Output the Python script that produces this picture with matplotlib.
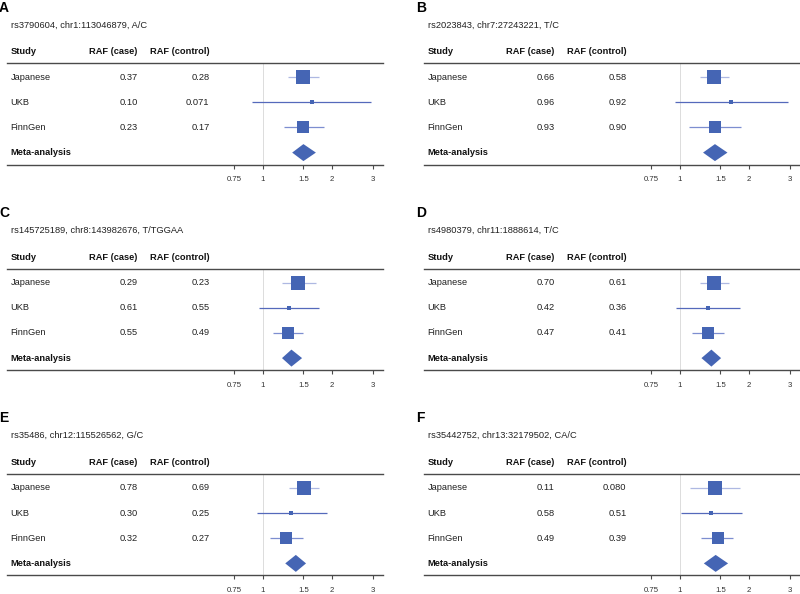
import numpy as np
import matplotlib
matplotlib.use("Agg")
import matplotlib.pyplot as plt
from matplotlib.ticker import NullLocator
from matplotlib.transforms import blended_transform_factory

plt.rcParams['font.family'] = ['Liberation Sans', 'DejaVu Sans']

# ---------------- data ----------------
LETTERS = ["A", "B", "C", "D", "E", "F"]
TITLES = [
    "rs3790604, chr1:113046879, A/C",
    "rs2023843, chr7:27243221, T/C",
    "rs145725189, chr8:143982676, T/TGGAA",
    "rs4980379, chr11:1888614, T/C",
    "rs35486, chr12:115526562, G/C",
    "rs35442752, chr13:32179502, CA/C",
]
STUDIES = ["Japanese", "UKB", "FinnGen"]
META_LABEL = "Meta-analysis"
HEADERS = ["Study", "RAF (case)", "RAF (control)"]

CASE_A = ["0.37", "0.10", "0.23"];  CTRL_A = ["0.28", "0.071", "0.17"]
CASE_B = ["0.66", "0.96", "0.93"];  CTRL_B = ["0.58", "0.92", "0.90"]
CASE_C = ["0.29", "0.61", "0.55"];  CTRL_C = ["0.23", "0.55", "0.49"]
CASE_D = ["0.70", "0.42", "0.47"];  CTRL_D = ["0.61", "0.36", "0.41"]
CASE_E = ["0.78", "0.30", "0.32"];  CTRL_E = ["0.69", "0.25", "0.27"]
CASE_F = ["0.11", "0.58", "0.49"];  CTRL_F = ["0.080", "0.51", "0.39"]

# odds ratios: Japanese, UKB, FinnGen, Meta-analysis
OR_A = [1.50, 1.63, 1.50, 1.50]; LO_A = [1.29, 0.90, 1.23, 1.34]; HI_A = [1.75, 2.96, 1.84, 1.70]
OR_B = [1.41, 1.67, 1.42, 1.42]; LO_B = [1.22, 0.95, 1.09, 1.26]; HI_B = [1.63, 2.95, 1.84, 1.61]
OR_C = [1.42, 1.30, 1.29, 1.33]; LO_C = [1.21, 0.96, 1.11, 1.21]; HI_C = [1.70, 1.76, 1.50, 1.48]
OR_D = [1.41, 1.33, 1.32, 1.37]; LO_D = [1.22, 0.96, 1.13, 1.24]; HI_D = [1.64, 1.83, 1.55, 1.51]
OR_E = [1.51, 1.33, 1.26, 1.39]; LO_E = [1.30, 0.94, 1.07, 1.25]; HI_E = [1.76, 1.90, 1.50, 1.54]
OR_F = [1.42, 1.37, 1.46, 1.43]; LO_F = [1.10, 1.01, 1.24, 1.27]; HI_F = [1.83, 1.86, 1.70, 1.62]

TICKS = [0.75, 1, 1.5, 2, 3]
TICK_LABELS = ["0.75", "1", "1.5", "2", "3"]

PANELS = [
    (CASE_A, CTRL_A, OR_A, LO_A, HI_A),
    (CASE_B, CTRL_B, OR_B, LO_B, HI_B),
    (CASE_C, CTRL_C, OR_C, LO_C, HI_C),
    (CASE_D, CTRL_D, OR_D, LO_D, HI_D),
    (CASE_E, CTRL_E, OR_E, LO_E, HI_E),
    (CASE_F, CTRL_F, OR_F, LO_F, HI_F),
]

# ---------------- style ----------------
FILL = "#4565b4"
LINE_COLORS = ["#aeb8e2", "#5569bb", "#7d8ed0"]
BOX_SIZES = [9.6, 3.2, 8.9]
TXT = 6.7

W, H = 800, 594
fig = plt.figure(figsize=(W / 100, H / 100), dpi=100)

PANEL_LEFT = [6.5, 423.5]
PANEL_TOP = [63, 268.5, 473.8]
PW = 376.0
ROW_SP = 25.2
TOP_PAD, BOT_PAD = 14.0, 12.0
PH = TOP_PAD + 3 * ROW_SP + BOT_PAD
ONE_AT = 256.5
PX_PER_LN = 99.7

y_top = 1 - TOP_PAD / ROW_SP
y_bot = 4 + BOT_PAD / ROW_SP

for i, (case, ctrl, est, lo, hi) in enumerate(PANELS):
    L = PANEL_LEFT[i % 2]
    T = PANEL_TOP[i // 2]
    ax = fig.add_axes([L / W, 1 - (T + PH) / H, PW / W, PH / H])
    ax.set_xscale('log')
    ax.set_xlim(np.exp(-ONE_AT / PX_PER_LN), np.exp((PW - ONE_AT) / PX_PER_LN))
    ax.set_ylim(y_bot, y_top)
    ax.set_xticks(TICKS)
    ax.set_xticklabels(TICK_LABELS)
    ax.xaxis.set_minor_locator(NullLocator())
    ax.set_yticks([])
    for s in ["left", "right"]:
        ax.spines[s].set_visible(False)
    for s in ["top", "bottom"]:
        ax.spines[s].set_color("#4a4a4a")
        ax.spines[s].set_linewidth(1.0)
    ax.tick_params(axis='x', direction='out', length=3, width=0.8, color='#4a4a4a',
                   labelsize=5.6, labelcolor='#333333', pad=5.5)
    ax.axvline(1, color='#dcdcdc', lw=0.7, zorder=0)

    tr = blended_transform_factory(ax.transAxes, ax.transData)
    y_hdr = y_top - 11.5 / ROW_SP
    ax.text(-7.5 / PW, y_top - 51.5 / ROW_SP, LETTERS[i], transform=tr, ha='left', va='baseline',
            fontsize=10, fontweight='bold', color='black')
    ax.text(4.5 / PW, y_top - 38 / ROW_SP, TITLES[i], transform=tr, ha='left', va='center',
            fontsize=TXT, color='#222222')
    ax.text(4 / PW, y_hdr, HEADERS[0], transform=tr, ha='left', va='center', fontsize=TXT,
            fontweight='bold', color='#111111')
    ax.text(131 / PW, y_hdr, HEADERS[1], transform=tr, ha='right', va='center', fontsize=TXT,
            fontweight='bold', color='#111111')
    ax.text(203 / PW, y_hdr, HEADERS[2], transform=tr, ha='right', va='center', fontsize=TXT,
            fontweight='bold', color='#111111')

    for r, name in enumerate(STUDIES):
        y = r + 1
        ax.text(4 / PW, y, name, transform=tr, ha='left', va='center', fontsize=TXT, color='#222222')
        ax.text(131 / PW, y, case[r], transform=tr, ha='right', va='center', fontsize=TXT, color='#222222')
        ax.text(203 / PW, y, ctrl[r], transform=tr, ha='right', va='center', fontsize=TXT, color='#222222')
        ax.hlines(y, lo[r], hi[r], color=LINE_COLORS[r], lw=0.9, zorder=2)
        ax.plot([est[r]], [y], marker='s', ms=BOX_SIZES[r], mew=0, color=FILL, ls='none', zorder=3)

    ax.text(4 / PW, 4, META_LABEL, transform=tr, ha='left', va='center', fontsize=TXT,
            fontweight='bold', color='#111111')
    h = 8.5 / ROW_SP
    ax.fill([lo[3], est[3], hi[3], est[3]], [4, 4 - h, 4, 4 + h], color=FILL, lw=0, zorder=3)

fig.savefig("out.png", dpi=100)
